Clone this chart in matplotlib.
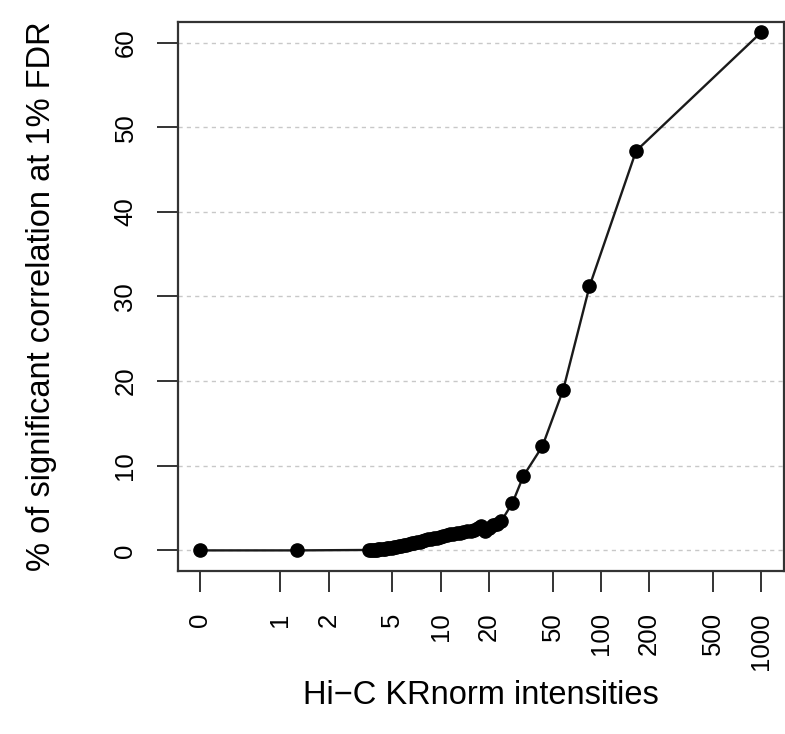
import matplotlib
matplotlib.use("Agg")
import matplotlib.pyplot as plt

# Hi-C KRnorm intensity bins (x) and % significant correlations at 1% FDR (y)
intensity = [0, 1.27,
             3.6, 3.7, 3.8, 3.9, 4.0, 4.1, 4.2, 4.35, 4.5, 4.65, 4.8, 4.95,
             5.1, 5.3, 5.5, 5.7, 5.9, 6.1, 6.35, 6.6, 6.85, 7.1, 7.4, 7.7,
             8.0, 8.3, 8.7, 9.1, 9.5, 9.9, 10.4, 10.9, 11.4, 12.0, 12.6, 13.2,
             13.9, 14.6, 15.4, 16.2, 17.1, 18.0, 19.0, 20.1, 21.3, 22.6, 24.0,
             28.1, 32.9, 43.2, 58.3, 85, 166, 1000]
pct_signif = [0.0, 0.0,
              0.05, 0.05, 0.08, 0.1, 0.1, 0.12, 0.15, 0.18, 0.2, 0.25, 0.28, 0.32,
              0.36, 0.42, 0.48, 0.55, 0.6, 0.68, 0.75, 0.82, 0.9, 1.0, 1.05, 1.15,
              1.2, 1.3, 1.38, 1.45, 1.52, 1.6, 1.75, 1.8, 1.9, 1.95, 2.0, 2.05,
              2.15, 2.25, 2.35, 2.45, 2.6, 2.85, 2.35, 2.6, 2.95, 3.15, 3.5,
              5.6, 8.8, 12.3, 19.0, 31.2, 47.2, 61.2]

xtick_vals = [0, 1, 2, 5, 10, 20, 50, 100, 200, 500, 1000]
xtick_labels = ["0", "1", "2", "5", "10", "20", "50", "100", "200", "500", "1000"]
ytick_vals = [0, 10, 20, 30, 40, 50, 60]

plt.rcParams['font.family'] = ['Liberation Sans', 'DejaVu Sans']

W, H = 785, 734
fig = plt.figure(figsize=(W / 100, H / 100), dpi=100)
left, right, bottom, top = 177.7, 783.5, 570.7, 22.3
aw, ah = right - left, bottom - top
ax = fig.add_axes([left / W, 1 - bottom / H, aw / W, ah / H])

ax.set_xscale('symlog', linthresh=1, linscale=0.45, base=10)
ax.set_xlim(-0.28, 1380)
ax.set_ylim(-2.4, 62.4)

for yv in ytick_vals:
    ax.axhline(yv, color='#c8c8c8', lw=1.0, linestyle=(0, (3, 3)), zorder=0)

ax.plot(intensity, pct_signif, color='#1a1a1a', lw=1.7, marker='o',
        markersize=9.5, markerfacecolor='black', markeredgecolor='black', zorder=3)

ax.set_xticks(xtick_vals)
ax.set_xticklabels(xtick_labels, rotation=90, fontsize=18.5)
ax.xaxis.set_minor_locator(matplotlib.ticker.NullLocator())
ax.set_yticks(ytick_vals)
ax.set_yticklabels([str(v) for v in ytick_vals], rotation=90, fontsize=18.5, va='center')

ax.tick_params(axis='both', direction='out', length=15, width=1.4, color='#333333')
ax.tick_params(axis='x', pad=15)
ax.tick_params(axis='y', pad=14)
for s in ax.spines.values():
    s.set_linewidth(1.6)
    s.set_color('#333333')

ax.set_xlabel("Hi\u2212C KRnorm intensities", fontsize=23.5, va='baseline')
ax.xaxis.set_label_coords(0.5, (bottom - 704) / ah)
ax.set_ylabel("% of significant correlation at 1% FDR", fontsize=23.5, va='center')
ax.yaxis.set_label_coords((42 - left) / aw, 0.5)

fig.savefig("out.png", dpi=100)
